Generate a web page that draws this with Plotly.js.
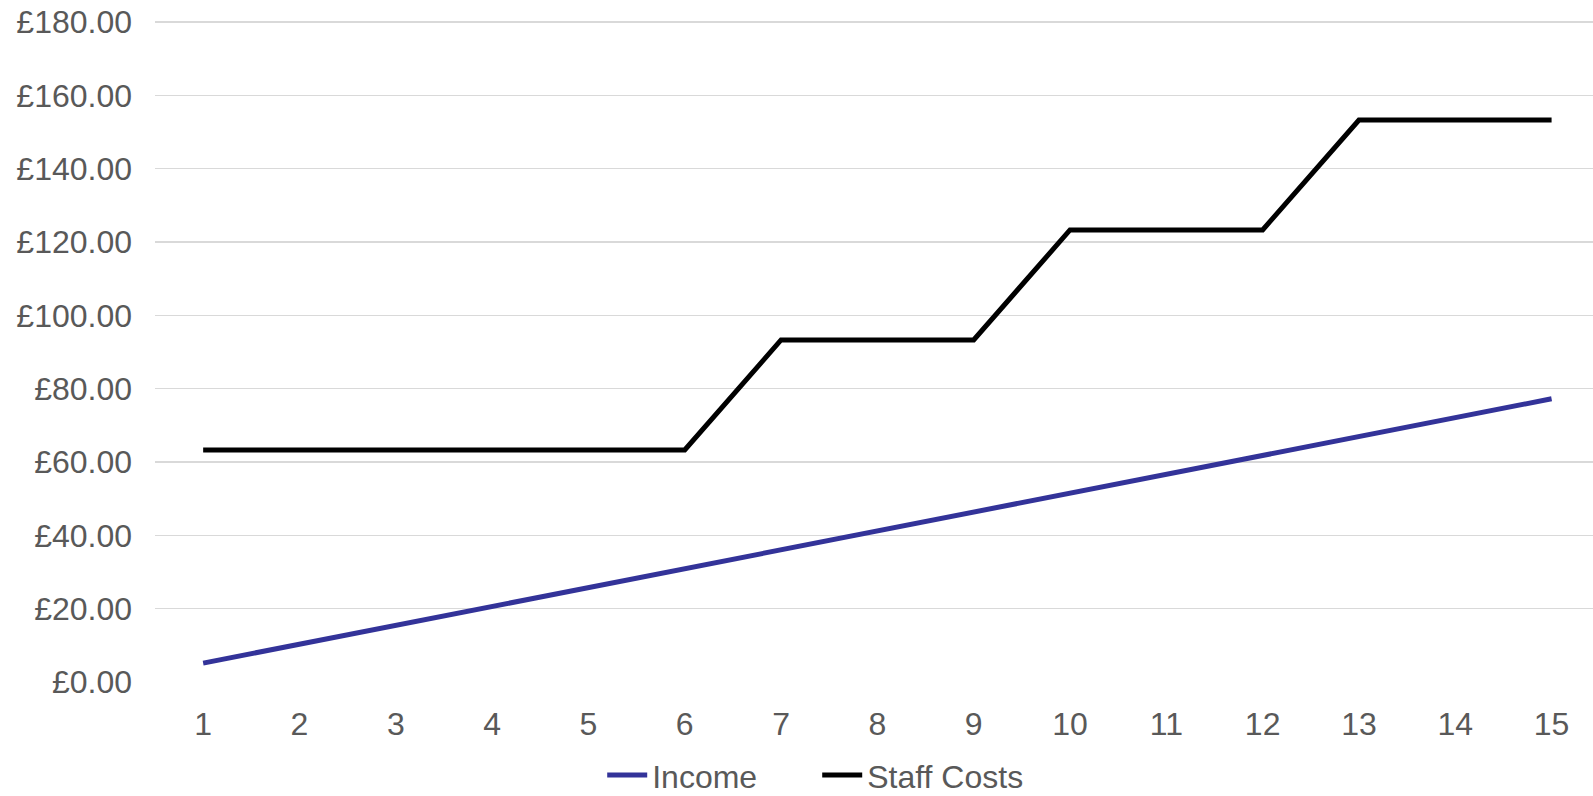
<!DOCTYPE html>
<html>
<head>
<meta charset="utf-8">
<script src="https://cdn.plot.ly/plotly-3.0.1.min.js"></script>
<style>html,body{margin:0;padding:0;background:#fff;}#chart{width:1593px;height:796px;}</style>
</head>
<body>
<div id="chart"></div>
<script>
const periods = [1,2,3,4,5,6,7,8,9,10,11,12,13,14,15];
const income = [5.15,10.30,15.45,20.60,25.75,30.90,36.05,41.20,46.35,51.50,56.65,61.80,66.95,72.10,77.25];
const staffCosts = [63.3,63.3,63.3,63.3,63.3,63.3,93.3,93.3,93.3,123.3,123.3,123.3,153.3,153.3,153.3];
const seriesNames = ['Income','Staff Costs'];

const font = 'Liberation Sans, Arial, sans-serif';
const traces = [
  {x: periods, y: income, name: seriesNames[0], type: 'scatter', mode: 'lines',
   line: {color: '#333399', width: 5}},
  {x: periods, y: staffCosts, name: seriesNames[1], type: 'scatter', mode: 'lines',
   line: {color: '#000000', width: 5}}
];
const layout = {
  width: 1593, height: 796,
  margin: {l: 155, r: 0, t: 21, b: 114},
  paper_bgcolor: '#ffffff', plot_bgcolor: '#ffffff',
  font: {family: font, size: 32, color: '#595959'},
  showlegend: true,
  legend: {orientation: 'h', x: 0.513, xref: 'container', xanchor: 'center',
           y: 0.026, yref: 'container', yanchor: 'middle',
           entrywidth: 160, entrywidthmode: 'pixels',
           font: {family: font, size: 32, color: '#595959'}, itemwidth: 40},
  xaxis: {range: [0.5, 15.43], tickmode: 'array', tickvals: periods, ticktext: periods.map(String),
          showgrid: false, zeroline: false, showline: false, ticks: '', ticklabelstandoff: 20,
          tickfont: {family: font, size: 32, color: '#595959'}},
  yaxis: {range: [0, 180.3], dtick: 20, tick0: 0, tickprefix: '£', tickformat: '.2f',
          showgrid: true, gridcolor: '#d9d9d9', gridwidth: 1.5, zeroline: false, showline: false,
          ticks: '', ticklabelstandoff: 22,
          tickfont: {family: font, size: 32, color: '#595959'}}
};
Plotly.newPlot('chart', traces, layout, {displayModeBar: false, staticPlot: true});
</script>
</body>
</html>
